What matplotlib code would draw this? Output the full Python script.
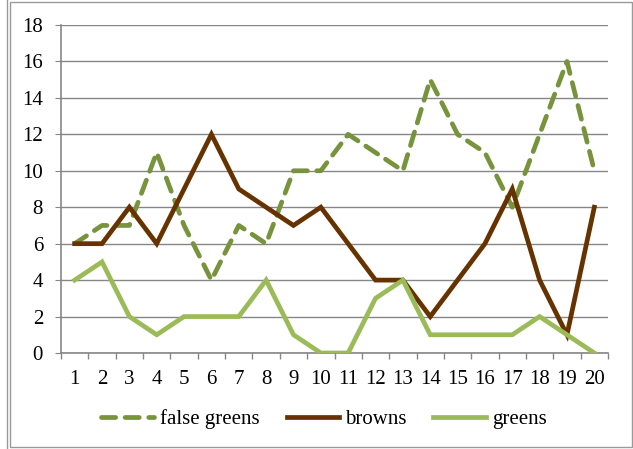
import matplotlib
matplotlib.use("Agg")
from matplotlib import pyplot as plt
from matplotlib.patches import Rectangle
from matplotlib.lines import Line2D

days = list(range(1, 21))
false_greens = [6, 7, 7, 11, 7, 4, 7, 6, 10, 10, 12, 11, 10, 15, 12, 11, 8, 12, 16, 10]
browns = [6, 6, 8, 6, 9, 12, 9, 8, 7, 8, 6, 4, 4, 2, 4, 6, 9, 4, 1, 8]
greens = [4, 5, 2, 1, 2, 2, 2, 4, 1, 0, 0, 3, 4, 1, 1, 1, 1, 2, 1, 0]

plt.rcParams['font.family'] = ['Liberation Serif', 'DejaVu Serif']

fig = plt.figure(figsize=(6.33, 4.49), dpi=100)

# outer frames
fig.patches.append(Rectangle((10 / 633, 2 / 449), 622 / 633, 445 / 449, transform=fig.transFigure,
                             fill=False, edgecolor='#9a9a9a', linewidth=1))
fig.add_artist(Line2D([7 / 633, 7 / 633], [0, 1], transform=fig.transFigure, color='#9a9a9a', linewidth=1))

ax = fig.add_axes([61 / 633, 1 - 353 / 449, 547 / 633, 328 / 449])

ax.plot(days, false_greens, color='#77933C', linewidth=3.4, linestyle=(0, (3, 2)),
        dash_capstyle='round', solid_joinstyle='round', label='false greens', zorder=3)
ax.plot(days, browns, color='#663300', linewidth=3.4, solid_joinstyle='miter', label='browns', zorder=3)
ax.plot(days, greens, color='#9BBB59', linewidth=3.4, solid_joinstyle='miter', label='greens', zorder=3)

ax.set_xlim(0.5, 20.5)
ax.set_ylim(0, 18)
ax.set_yticks(range(0, 19, 2))
ax.set_xticks(days)
ax.set_xticks([d + 0.5 for d in range(0, 21)], minor=True)
ax.tick_params(axis='x', which='major', length=0, labelsize=15, pad=12, colors='black')
ax.tick_params(axis='x', which='minor', length=4.3, color='#868686', width=1)
ax.tick_params(axis='y', length=4.3, color='#868686', labelsize=15, pad=8.6)

ax.grid(axis='y', color='#868686', linewidth=1)
ax.set_axisbelow(True)
for s in ['top', 'right']:
    ax.spines[s].set_visible(False)
for s in ['left', 'bottom']:
    ax.spines[s].set_color('#868686')
    ax.spines[s].set_linewidth(1.2)

leg = fig.legend(loc='center', bbox_to_anchor=(324 / 633, 1 - 419 / 449), ncol=3, frameon=False,
                 fontsize=15, handlelength=2.5, columnspacing=1.3, handletextpad=0.3)

fig.savefig('out.png', dpi=100)
